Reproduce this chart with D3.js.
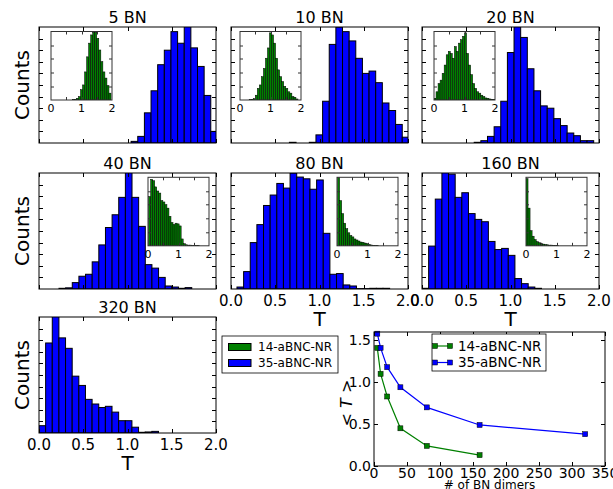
<!DOCTYPE html>
<meta charset="utf-8">

<!-- Load d3.js -->
<script src="https://d3js.org/d3.v7.min.js"></script>

<style>
  body { margin: 0; background: #fff; }
  text { font-family: "DejaVu Sans", sans-serif; fill: #000; }
</style>

<!-- Create a div where the graph will take place -->
<div id="my_dataviz"></div>

<script>

// ---- data ----
var titles = ["5 BN", "10 BN", "20 BN", "40 BN", "80 BN", "160 BN", "320 BN"];

// blue histograms (35-aBNC-NR), bar heights as fraction of the axes height
var blueBinWidth = 0.075;
var blueStart = [1.041, 0.66, 0.59, 0.226, 0.0675, 0.0, 0.0];
var blue5   = [0.014, 0.057, 0.26, 0.45, 0.675, 0.80, 0.96, 0.86, 1.05, 0.82, 0.66, 0.41, 0.10];
var blue10  = [0.006, 0, 0, 0.006, 0.07, 0.36, 0.85, 1.0, 0.96, 0.88, 0.73, 0.60, 0.62, 0.52, 0.345, 0.28, 0.16, 0.05];
var blue20  = [0.006, 0.02, 0.057, 0.14, 0.36, 0.78, 1.05, 0.91, 0.64, 0.45, 0.32, 0.30, 0.21, 0.15, 0.086, 0.063, 0.02, 0.02];
var blue40  = [0.006, 0.01, 0.055, 0.11, 0.127, 0.234, 0.38, 0.53, 0.64, 0.79, 1.05, 0.79, 0.54, 0.21, 0.18, 0.10, 0.026, 0.017, 0.006, 0.012];
var blue80  = [0.017, 0.15, 0.40, 0.555, 0.72, 0.81, 0.91, 0.87, 1.0, 0.965, 0.95, 0.86, 0.94, 0.48, 0.127, 0.133, 0.035, 0.026, 0.003, 0.003, 0.006, 0.006, 0.006];
var blue160 = [0.006, 0.37, 0.775, 1.05, 0.99, 0.79, 0.83, 0.65, 0.60, 0.58, 0.41, 0.34, 0.35, 0.29, 0.09, 0.046, 0.017, 0.006];
var blue320 = [0.063, 0.776, 1.05, 0.82, 0.73, 0.49, 0.41, 0.29, 0.25, 0.22, 0.23, 0.18, 0.106, 0.106, 0.05, 0.006, 0.009, 0.014];

// green inset histograms (14-aBNC-NR)
var greenBinWidth = 0.0667;
var greenStart = [0.7, 0.3, 0.0, 0.02, 0.02, 0.0];
var green5   = [0.008, 0.01, 0.025, 0.05, 0.15, 0.22, 0.41, 0.63, 0.83, 0.95, 0.99, 0.99, 0.90, 0.73, 0.56, 0.41, 0.32, 0.21, 0.10];
var green10  = [0.005, 0.01, 0.02, 0.07, 0.17, 0.22, 0.34, 0.46, 0.61, 0.76, 0.98, 0.95, 0.83, 0.61, 0.44, 0.34, 0.27, 0.20, 0.17, 0.12, 0.10, 0.05, 0.04, 0.015];
var green20  = [0.025, 0.12, 0.24, 0.29, 0.39, 0.51, 0.66, 0.71, 0.68, 0.61, 0.78, 0.71, 0.83, 0.88, 0.93, 0.98, 0.68, 0.51, 0.37, 0.24, 0.17, 0.12, 0.10, 0.07, 0.05, 0.03, 0.025, 0.015, 0.01, 0.005];
var green40  = [0.72, 0.97, 0.95, 0.86, 0.80, 0.77, 0.66, 0.64, 0.60, 0.55, 0.43, 0.34, 0.31, 0.33, 0.32, 0.29, 0.10, 0.03, 0.015, 0.01, 0.01, 0.005, 0.005, 0.005, 0.005];
var green80  = [1.0, 0.66, 0.47, 0.33, 0.25, 0.19, 0.15, 0.13, 0.10, 0.085, 0.07, 0.055, 0.05, 0.04, 0.03, 0.02, 0.012, 0.008, 0.005, 0.005];
var green160 = [0.98, 0.55, 0.22, 0.14, 0.09, 0.06, 0.045, 0.03, 0.025, 0.02, 0.015, 0.01, 0.01, 0.008, 0.005, 0.005];

var blueSets = [blue5, blue10, blue20, blue40, blue80, blue160, blue320];
var greenSets = [green5, green10, green20, green40, green80, green160];

// mean T vs number of BN dimers
var dimers14 = [5, 10, 20, 40, 80, 160];
var meanT14  = [1.41, 1.10, 0.83, 0.45, 0.24, 0.13];
var dimers35 = [5, 10, 20, 40, 80, 160, 320];
var meanT35  = [1.58, 1.41, 1.18, 0.94, 0.70, 0.49, 0.38];
var seriesNames = ["14-aBNC-NR", "35-aBNC-NR"];
var seriesColors = ["#008000", "#0000ff"];

var histTicks = [0, 0.5, 1.0, 1.5, 2.0];
var insetTicks = [0, 1, 2];
var lineXTicks = [0, 50, 100, 150, 200, 250, 300, 350];
var lineYTicks = [0, 0.5, 1.0, 1.5];

// ---- layout ----
var W = 613, H = 489;
var svg = d3.select("#my_dataviz")
  .append("svg")
    .attr("width", W)
    .attr("height", H);

var defs = svg.append("defs");

var panelW = 177, panelH = 116;
var panels = [
  {left: 39,  top: 27,  inset: [12, 4.5],  xLabels: false, yLabel: true},
  {left: 231, top: 27,  inset: [9, 4.5],   xLabels: false, yLabel: false},
  {left: 422, top: 27,  inset: [12, 4.5],  xLabels: false, yLabel: false},
  {left: 39,  top: 173, inset: [109, 4.3], xLabels: false, yLabel: true},
  {left: 231, top: 173, inset: [106, 4.3], xLabels: true,  yLabel: false},
  {left: 422, top: 173, inset: [104, 4.3], xLabels: true,  yLabel: false},
  {left: 39,  top: 317, inset: null,       xLabels: true,  yLabel: true}
];
var insetW = 61, insetH = 68.5;

// draw a frame with inward ticks on all four sides
function frame(g, x, y, w, h, xt, yt, len, color) {
  var t = g.append("g").attr("stroke", color).attr("stroke-width", 1);
  xt.forEach(function(v) {
    var px = Math.round(x(v)) + 0.5;
    t.append("line").attr("x1", px).attr("x2", px).attr("y1", h).attr("y2", h - len);
    t.append("line").attr("x1", px).attr("x2", px).attr("y1", 0).attr("y2", len);
  });
  yt.forEach(function(v) {
    var py = Math.round(y(v)) + 0.5;
    t.append("line").attr("x1", 0).attr("x2", len).attr("y1", py).attr("y2", py);
    t.append("line").attr("x1", w).attr("x2", w - len).attr("y1", py).attr("y2", py);
  });
  g.append("rect")
    .attr("x", 0).attr("y", 0).attr("width", w).attr("height", h)
    .attr("fill", "none").attr("stroke", color).attr("stroke-width", 1);
}

function bars(g, x, y, h, start, bw, values, fill, sw) {
  g.selectAll(null)
    .data(values)
    .enter()
    .append("rect")
      .attr("x", function(d, i) { return x(start + i * bw); })
      .attr("width", x(bw) - x(0))
      .attr("y", function(d) { return y(d); })
      .attr("height", function(d) { return h - y(d); })
      .attr("fill", fill)
      .attr("stroke", "#000")
      .attr("stroke-width", sw);
}

panels.forEach(function(p, k) {
  var g = svg.append("g").attr("transform", "translate(" + p.left + "," + p.top + ")");
  var x = d3.scaleLinear().domain([0, 2]).range([0, panelW]);
  var y = d3.scaleLinear().domain([0, 1]).range([panelH, 0]);

  defs.append("clipPath").attr("id", "clip" + k)
    .append("rect").attr("width", panelW).attr("height", panelH);

  g.append("rect").attr("width", panelW).attr("height", panelH).attr("fill", "#fff");
  bars(g.append("g").attr("clip-path", "url(#clip" + k + ")"),
       x, y, panelH, blueStart[k], blueBinWidth, blueSets[k], "#0000ff", 1);

  frame(g, x, y, panelW, panelH, histTicks, d3.range(0.1, 1.0, 0.1), 4, "#000");

  // title
  g.append("text")
    .attr("x", panelW / 2).attr("y", -4)
    .attr("text-anchor", "middle")
    .style("font-size", "16px")
    .text(titles[k]);

  if (p.yLabel) {
    g.append("text")
      .attr("transform", "translate(" + (22 - p.left + 7) + "," + (panelH / 2) + ") rotate(-90)")
      .attr("text-anchor", "middle")
      .style("font-size", "20px")
      .text("Counts");
  }

  if (p.xLabels) {
    histTicks.forEach(function(v) {
      g.append("text")
        .attr("x", x(v)).attr("y", panelH + 17)
        .attr("text-anchor", "middle")
        .style("font-size", "15px")
        .text(d3.format(".1f")(v));
    });
    g.append("text")
      .attr("x", panelW / 2).attr("y", panelH + 37)
      .attr("text-anchor", "middle")
      .style("font-size", "20px")
      .text("T");
  }

  // green inset
  if (p.inset) {
    var ig = g.append("g").attr("transform", "translate(" + p.inset[0] + "," + p.inset[1] + ")");
    var ix = d3.scaleLinear().domain([0, 2]).range([0, insetW]);
    var iy = d3.scaleLinear().domain([0, 1]).range([insetH, 0]);
    defs.append("clipPath").attr("id", "iclip" + k)
      .append("rect").attr("width", insetW).attr("height", insetH);
    ig.append("rect").attr("width", insetW).attr("height", insetH).attr("fill", "#fff");
    bars(ig.append("g").attr("clip-path", "url(#iclip" + k + ")"),
         ix, iy, insetH, greenStart[k], greenBinWidth, greenSets[k], "#008000", 0.5);
    frame(ig, ix, iy, insetW, insetH, [0.5, 1, 1.5], [0.2, 0.4, 0.6, 0.8], 3, "#333");
    insetTicks.forEach(function(v) {
      ig.append("text")
        .attr("x", ix(v)).attr("y", insetH + 12)
        .attr("text-anchor", "middle")
        .style("font-size", "11px")
        .text(v);
    });
  }
});

// histogram legend
var lg = svg.append("g").attr("transform", "translate(222,336)");
lg.append("rect").attr("width", 116).attr("height", 37)
  .attr("fill", "#fff").attr("stroke", "#000").attr("stroke-width", 0.8);
seriesNames.forEach(function(name, i) {
  lg.append("rect")
    .attr("x", 6.5).attr("y", 7.5 + i * 16).attr("width", 22.5).attr("height", 7)
    .attr("fill", seriesColors[i]).attr("stroke", "#000").attr("stroke-width", 1);
  lg.append("text")
    .attr("x", 36).attr("y", 11 + i * 16).attr("dy", "0.35em")
    .style("font-size", "12px")
    .text(name);
});

// ---- mean T line chart ----
var lc = {left: 374, top: 332, w: 231, h: 134};
var lgp = svg.append("g").attr("transform", "translate(" + lc.left + "," + lc.top + ")");
var lx = d3.scaleLinear().domain([0, 350]).range([0, lc.w]);
var ly = d3.scaleLinear().domain([0, 1.6]).range([lc.h, 0]);

var series = [
  {xs: dimers14, ys: meanT14},
  {xs: dimers35, ys: meanT35}
];

series.forEach(function(s, i) {
  var pts = s.xs.map(function(d, j) { return [d, s.ys[j]]; });
  lgp.append("path")
    .datum(pts)
    .attr("d", d3.line()
      .x(function(d) { return lx(d[0]); })
      .y(function(d) { return ly(d[1]); }))
    .attr("fill", "none")
    .attr("stroke", seriesColors[i])
    .attr("stroke-width", 1.2);
  lgp.selectAll(null)
    .data(pts)
    .enter()
    .append("rect")
      .attr("x", function(d) { return lx(d[0]) - 2.5; })
      .attr("y", function(d) { return ly(d[1]) - 2.5; })
      .attr("width", 5).attr("height", 5)
      .attr("fill", seriesColors[i])
      .attr("stroke", "#000").attr("stroke-width", 0.5);
});

frame(lgp, lx, ly, lc.w, lc.h, lineXTicks, lineYTicks, 4, "#000");

lineXTicks.forEach(function(v) {
  lgp.append("text")
    .attr("x", lx(v)).attr("y", lc.h + 12)
    .attr("text-anchor", "middle")
    .style("font-size", "14px")
    .text(v);
});
lineYTicks.forEach(function(v) {
  lgp.append("text")
    .attr("x", -3).attr("y", ly(v)).attr("dy", "0.35em")
    .attr("text-anchor", "end")
    .style("font-size", "14px")
    .text(d3.format(".1f")(v));
});
lgp.append("text")
  .attr("x", lc.w / 2).attr("y", lc.h + 23)
  .attr("text-anchor", "middle")
  .style("font-size", "12px")
  .text("# of BN dimers");
var yl = lgp.append("text")
  .attr("transform", "translate(-22," + (lc.h / 2 + 4) + ") rotate(-90)")
  .attr("text-anchor", "middle")
  .style("font-size", "16px");
yl.append("tspan").text("< ");
yl.append("tspan").style("font-style", "italic").text("T");
yl.append("tspan").text(" >");

// line chart legend
var ll = lgp.append("g").attr("transform", "translate(58,2)");
ll.append("rect").attr("width", 114).attr("height", 37)
  .attr("fill", "#fff").attr("stroke", "#000").attr("stroke-width", 0.8);
seriesNames.forEach(function(name, i) {
  var yy = 12 + i * 16.5;
  ll.append("line").attr("x1", 3).attr("x2", 18).attr("y1", yy).attr("y2", yy)
    .attr("stroke", seriesColors[i]).attr("stroke-width", 1.2);
  [3, 18].forEach(function(xx) {
    ll.append("rect").attr("x", xx - 2.5).attr("y", yy - 2.5).attr("width", 5).attr("height", 5)
      .attr("fill", seriesColors[i]).attr("stroke", "#000").attr("stroke-width", 0.5);
  });
  ll.append("text")
    .attr("x", 26).attr("y", yy).attr("dy", "0.35em")
    .style("font-size", "13.5px")
    .text(name);
});

</script>
